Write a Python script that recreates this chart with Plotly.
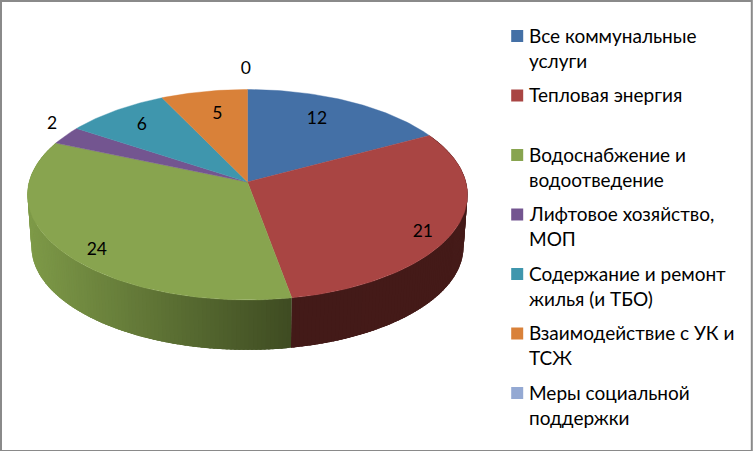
import math
import plotly.graph_objects as go

categories = ["Все коммунальные\nуслуги", "Тепловая энергия", "Водоснабжение и\nводоотведение",
              "Лифтовое хозяйство,\nМОП", "Содержание и ремонт\nжилья (и ТБО)",
              "Взаимодействие с УК и\nТСЖ", "Меры социальной\nподдержки"]
values = [12, 21, 24, 2, 6, 5, 0]
colors = ["#4470a6", "#a94543", "#88a44f", "#735590", "#3f96ad", "#d98139", "#94a9d3"]

# label placement: radial fraction and turn from the slice middle (deg)
label_radius = [0.756, 0.878, 0.871, 1.146, 0.802, 0.751, 1.28]
label_turn = [-3.8, 4.3, -4.1, 4.6, 0.8, 1.3, -0.4]

W, H = 753, 451
CX, CY = 247.5, 182.0   # apex of the tilted pie
A, B, K = 218.4, 103.7, 0.1211
DEPTH, SHRINK = 52.0, 0.982
FONT = "Lato, 'Noto Sans', sans-serif"


def project(theta_deg, r=1.0, side=False):
    t = math.radians(theta_deg)
    X, Y = r * math.sin(t), r * math.cos(t)
    d = 1 + K * Y
    u, v = A * X / d, B * Y / d
    if side:
        return CX + SHRINK * u, CY - SHRINK * v + DEPTH
    return CX + u, CY - v


def mix(c1, c2, f):
    a = [int(c1[i:i + 2], 16) for i in (1, 3, 5)]
    b = [int(c2[i:i + 2], 16) for i in (1, 3, 5)]
    return "#%02x%02x%02x" % tuple(round(p + (q - p) * f) for p, q in zip(a, b))


total = sum(values)
edges = [0.0]
for v in values:
    edges.append(edges[-1] + 360.0 * v / total)

fig = go.Figure()
# rim; each strip overlaps the next one so no seams appear
rim_style = {1: ("#461b19", "#431a18"), 2: ("#3f4c22", "#7e9a48")}
for idx, (c_start, c_end) in rim_style.items():
    start, end = edges[idx], edges[idx + 1]
    n = int((end - start) / 1.0) + 1
    x_from = project(start)[0]
    x_left = CX - A - 2
    for j in range(n):
        a0 = start + (end - start) * j / n
        a1 = min(end, start + (end - start) * (j + 2.5) / n)
        p = [project(a0), project(a1), project(a1, side=True), project(a0, side=True)]
        xs = [q[0] for q in p] + [p[0][0]]
        ys = [q[1] for q in p] + [p[0][1]]
        if idx == 1:
            frac = j / n
        else:
            frac = min(1, max(0, (x_from - xs[0]) / (x_from - x_left)))
        col = mix(c_start, c_end, frac)
        fig.add_trace(go.Scatter(x=xs, y=ys, mode="lines", fill="toself", fillcolor=col,
                                 line=dict(width=0), hoverinfo="skip", showlegend=False))

# top faces
for i, v in enumerate(values):
    if v == 0:
        continue
    n = max(4, int(edges[i + 1] - edges[i]))
    pts = [project(edges[i] + (edges[i + 1] - edges[i]) * j / n) for j in range(n + 1)]
    xs = [CX] + [q[0] for q in pts] + [CX]
    ys = [CY] + [q[1] for q in pts] + [CY]
    fig.add_trace(go.Scatter(x=xs, y=ys, mode="lines", fill="toself", fillcolor=colors[i],
                             line=dict(color=colors[i], width=0.4), name=categories[i].replace("\n", " "),
                             text=str(v), hoverinfo="name+text", showlegend=False))

# value labels
lx, ly = [], []
for i in range(len(values)):
    mid = (edges[i] + edges[i + 1]) / 2 + label_turn[i]
    if values[i] == 0:
        mid = 360 + label_turn[i]
    px, py = project(mid, label_radius[i])
    lx.append(px)
    ly.append(py + 2.5)
fig.add_trace(go.Scatter(x=lx, y=ly, mode="text", text=[str(v) for v in values],
                         textposition="middle center", textfont=dict(family=FONT, size=17.5, color="#000000"),
                         hoverinfo="skip", showlegend=False))

# legend
LEG_X, LEG_Y, LEG_STEP, LINE_STEP = 517.2, 36.0, 59.5, 25.0
fig.add_trace(go.Scatter(x=[LEG_X] * len(values), y=[LEG_Y + LEG_STEP * i for i in range(len(values))],
                         mode="markers", marker=dict(symbol="square", size=12, color=colors, line=dict(width=0)),
                         hoverinfo="skip", showlegend=False))
annotations = []
for i, c in enumerate(categories):
    for j, line in enumerate(c.split("\n")):
        annotations.append(dict(x=LEG_X + 9.5, y=LEG_Y + LEG_STEP * i + LINE_STEP * j - 1, text=line, xref="x", yref="y",
                                xanchor="left", yanchor="middle", showarrow=False,
                                font=dict(family=FONT, size=19, color="#000000")))

fig.update_layout(
    width=W, height=H, margin=dict(l=0, r=0, t=0, b=0), paper_bgcolor="#ffffff", plot_bgcolor="#ffffff",
    xaxis=dict(range=[0, W], visible=False, fixedrange=True),
    yaxis=dict(range=[H, 0], visible=False, fixedrange=True),
    annotations=annotations,
    shapes=[dict(type="rect", xref="x", yref="y", x0=1, y0=1, x1=751.8, y1=451,
                 line=dict(color="#8a8a8a", width=2))],
)
fig.write_html("out.html", post_script="document.body.style.margin='0';", config={"displayModeBar": False})
